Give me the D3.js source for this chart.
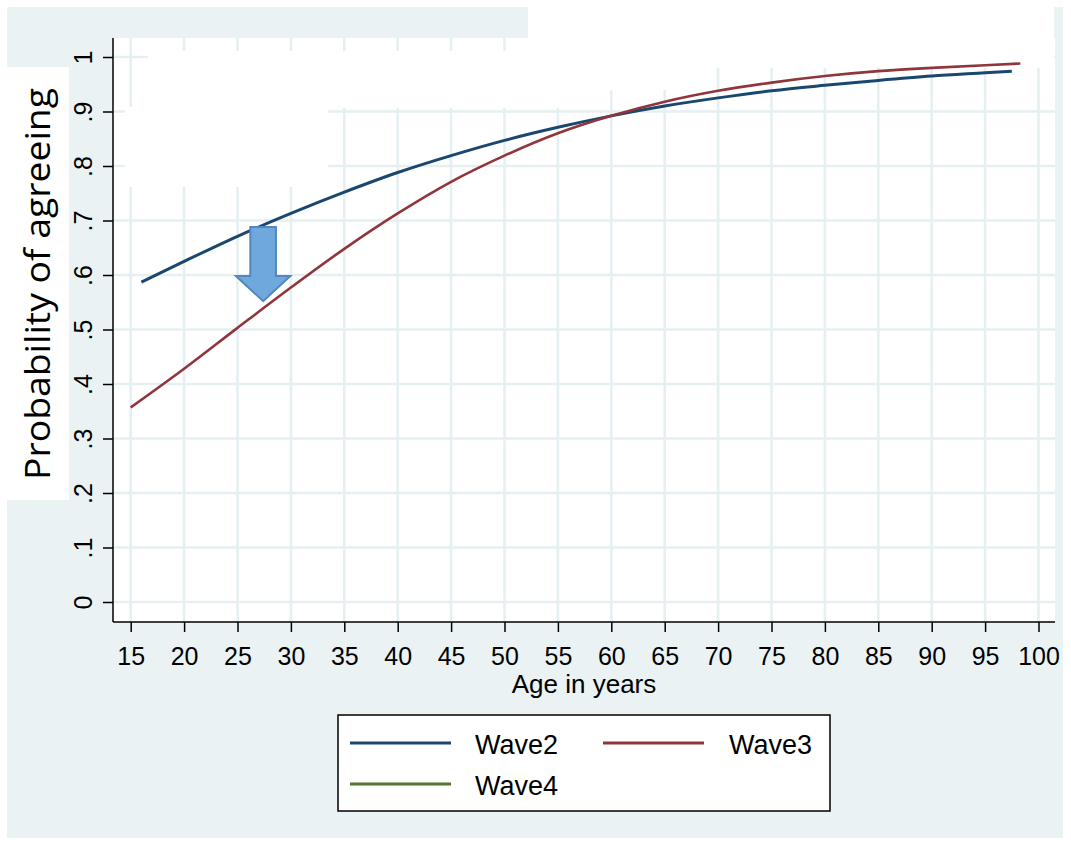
<!DOCTYPE html>
<html>
<head>
<meta charset="utf-8">
<script src="https://cdn.jsdelivr.net/npm/d3@7"></script>
<style>
  html, body { margin: 0; padding: 0; background: #fff; }
  svg { display: block; }
</style>
</head>
<body>
<div id="chart"></div>
<script>
// values
const ages2 = [16, 20, 25, 30, 35, 40, 45, 50, 55, 60, 65, 70, 75, 80, 85, 90, 95, 97.5];
const wave2 = [0.587, 0.625, 0.671, 0.713, 0.752, 0.788, 0.819, 0.847, 0.871, 0.892, 0.910, 0.925, 0.938, 0.948, 0.957, 0.965, 0.971, 0.974];
const ages3 = [15, 20, 25, 30, 35, 40, 45, 50, 55, 60, 65, 70, 75, 80, 85, 90, 95, 98.3];
const wave3 = [0.357, 0.428, 0.503, 0.577, 0.648, 0.713, 0.771, 0.819, 0.860, 0.892, 0.918, 0.938, 0.953, 0.965, 0.974, 0.980, 0.985, 0.988];

const xTicks = [15, 20, 25, 30, 35, 40, 45, 50, 55, 60, 65, 70, 75, 80, 85, 90, 95, 100];
const yTicks = [0, 0.1, 0.2, 0.3, 0.4, 0.5, 0.6, 0.7, 0.8, 0.9, 1];
const yTickLabels = ['0', '.1', '.2', '.3', '.4', '.5', '.6', '.7', '.8', '.9', '1'];

const legendNames = ['Wave2', 'Wave3', 'Wave4'];
const colors = ['#1a476f', '#90353b', '#55752f'];

// arrow annotation, in data units (age, probability)
const arrowX = 27.4;
const arrowTop = 0.688;
const arrowNeck = 0.598;
const arrowTip = 0.552;
const arrowShaftHalf = 1.2;
const arrowHeadHalf = 2.55;

const width = 1071;
const height = 846;
const bgColor = '#eaf2f3';
const gridColor = '#e6eff1';
const font = '"Liberation Sans", Arial, sans-serif';

const plotLeft = 113;
const plotRight = 1055;
const plotTop = 38;
const plotBottom = 622;

const x = d3.scaleLinear([15, 100], [130.7, 1038.5]);
const y = d3.scaleLinear([0, 1], [602, 57]);

const svg = d3
  .select('#chart')
  .append('svg')
  .attr('width', width)
  .attr('height', height)
  .attr('viewBox', [0, 0, width, height]);

svg.append('rect').attr('width', width).attr('height', height).attr('fill', '#fff');

// graph background
svg.append('rect')
  .attr('x', 7).attr('y', 7)
  .attr('width', 1063 - 7).attr('height', 838 - 7)
  .attr('fill', bgColor);

// plot region
svg.append('rect')
  .attr('x', plotLeft).attr('y', plotTop)
  .attr('width', plotRight - plotLeft).attr('height', plotBottom - plotTop)
  .attr('fill', '#fff');

// grid
const gGrid = svg.append('g').attr('stroke', gridColor).attr('stroke-width', 2.6);
gGrid.selectAll('.vx')
  .data(xTicks)
  .join('line')
  .attr('class', 'vx')
  .attr('x1', (d) => x(d)).attr('x2', (d) => x(d))
  .attr('y1', plotTop).attr('y2', plotBottom);
gGrid.selectAll('.hy')
  .data(yTicks)
  .join('line')
  .attr('class', 'hy')
  .attr('x1', plotLeft).attr('x2', plotRight)
  .attr('y1', (d) => y(d)).attr('y2', (d) => y(d));

// white boxes pasted over the picture
const masks = [
  [528, 0, 1054, 38],
  [148, 51, 528, 108],
  [528, 0, 585, 108],
  [585, 0, 690, 90],
  [690, 0, 1054, 68],
  [125, 107, 328, 187],
  [0, 67, 69, 500],
];
svg.append('g')
  .selectAll('rect')
  .data(masks)
  .join('rect')
  .attr('x', (d) => d[0]).attr('y', (d) => d[1])
  .attr('width', (d) => d[2] - d[0]).attr('height', (d) => d[3] - d[1])
  .attr('fill', '#fff');

// axes
const gx = svg.append('g').attr('transform', `translate(0,${plotBottom})`);
gx.call(
  d3.axisBottom(x)
    .tickValues(xTicks)
    .tickSizeInner(10)
    .tickSizeOuter(0)
    .tickPadding(15)
    .tickFormat(d3.format('d')),
);
gx.select('.domain').remove();
gx.append('line')
  .attr('x1', plotLeft).attr('x2', plotRight)
  .attr('stroke', '#000').attr('stroke-width', 1.5);
gx.selectAll('.tick line').attr('stroke', '#000').attr('stroke-width', 1.5);
gx.selectAll('.tick text')
  .attr('fill', '#000')
  .style('font-family', font)
  .style('font-size', '25px');

const gy = svg.append('g').attr('transform', `translate(${plotLeft},0)`);
gy.call(
  d3.axisLeft(y)
    .tickValues(yTicks)
    .tickSizeInner(10)
    .tickSizeOuter(0)
    .tickFormat((d, i) => yTickLabels[i]),
);
gy.select('.domain').remove();
gy.append('line')
  .attr('y1', plotTop).attr('y2', plotBottom)
  .attr('stroke', '#000').attr('stroke-width', 1.5);
gy.selectAll('.tick line').attr('stroke', '#000').attr('stroke-width', 1.5);
gy.selectAll('.tick text')
  .attr('x', null).attr('dy', null)
  .attr('fill', '#000')
  .attr('text-anchor', 'middle')
  .attr('transform', 'translate(-21,0) rotate(-90)')
  .style('font-family', font)
  .style('font-size', '25px');

// axis titles
svg.append('text')
  .attr('x', (plotLeft + plotRight) / 2)
  .attr('y', 693)
  .attr('text-anchor', 'middle')
  .style('font-family', font)
  .style('font-size', '26px')
  .text('Age in years');

svg.append('text')
  .attr('transform', 'translate(50,284) rotate(-90)')
  .attr('text-anchor', 'middle')
  .attr('textLength', 392)
  .attr('lengthAdjust', 'spacingAndGlyphs')
  .style('font-family', '"Open Sans", "Noto Sans", sans-serif')
  .style('font-size', '35px')
  .text('Probability of agreeing');

// curves
const line = d3.line()
  .x((d) => x(d[0]))
  .y((d) => y(d[1]))
  .curve(d3.curveMonotoneX);

const series = [
  { name: 'Wave2', points: d3.zip(ages2, wave2), color: colors[0], w: 3 },
  { name: 'Wave3', points: d3.zip(ages3, wave3), color: colors[1], w: 2.6 },
];

svg.append('g')
  .selectAll('path')
  .data(series)
  .join('path')
  .attr('fill', 'none')
  .attr('stroke', (d) => d.color)
  .attr('stroke-width', (d) => d.w)
  .attr('d', (d) => line(d.points));

// arrow
const arrowPts = [
  [arrowX - arrowShaftHalf, arrowTop],
  [arrowX + arrowShaftHalf, arrowTop],
  [arrowX + arrowShaftHalf, arrowNeck],
  [arrowX + arrowHeadHalf, arrowNeck],
  [arrowX, arrowTip],
  [arrowX - arrowHeadHalf, arrowNeck],
  [arrowX - arrowShaftHalf, arrowNeck],
];
svg.append('path')
  .attr('d', d3.line().x((d) => x(d[0])).y((d) => y(d[1])).curve(d3.curveLinearClosed)(arrowPts))
  .attr('fill', '#6fa8dc')
  .attr('stroke', '#5287bf')
  .attr('stroke-width', 2);

// legend
const legend = svg.append('g');
legend.append('rect')
  .attr('x', 338).attr('y', 715)
  .attr('width', 830 - 338).attr('height', 811 - 715)
  .attr('fill', '#fff')
  .attr('stroke', '#000')
  .attr('stroke-width', 1.5);

const legendPos = [
  { lx: 350, ly: 743, tx: 475 },
  { lx: 603, ly: 743, tx: 729 },
  { lx: 350, ly: 784, tx: 475 },
];

const items = legend.selectAll('g')
  .data(legendNames)
  .join('g');
items.append('line')
  .attr('x1', (d, i) => legendPos[i].lx)
  .attr('x2', (d, i) => legendPos[i].lx + 101)
  .attr('y1', (d, i) => legendPos[i].ly)
  .attr('y2', (d, i) => legendPos[i].ly)
  .attr('stroke', (d, i) => colors[i])
  .attr('stroke-width', 3);
items.append('text')
  .attr('x', (d, i) => legendPos[i].tx)
  .attr('y', (d, i) => legendPos[i].ly + 11)
  .style('font-family', font)
  .style('font-size', '27px')
  .text((d) => d);
</script>
</body>
</html>
